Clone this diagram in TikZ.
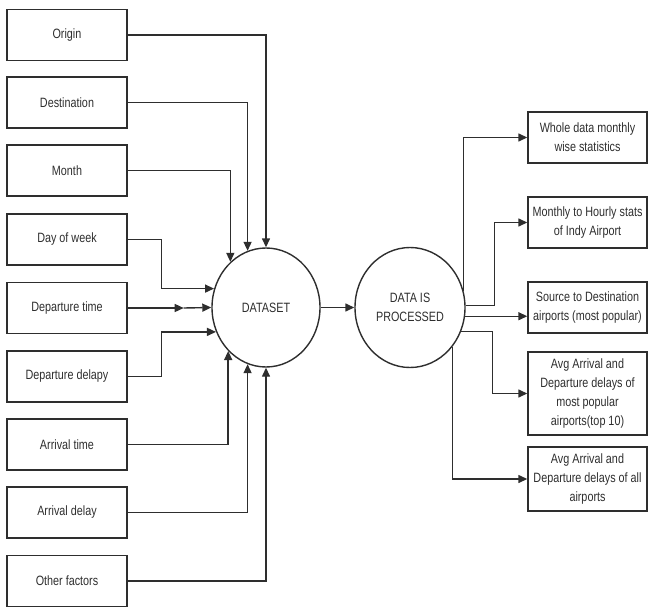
\documentclass[tikz,border=0pt]{standalone}
\usepackage{fontspec}
\setmainfont{Liberation Sans}[FakeStretch=0.8]
\usetikzlibrary{arrows.meta,shapes.geometric}
\definecolor{ink}{HTML}{2E2E2E}
\begin{document}
\begin{tikzpicture}[x=1pt,y=-1pt,
  every node/.style={font=\fontsize{13.5}{19}\selectfont, text=ink},
  lbox/.style={draw=ink, line width=1.4pt, minimum width=120pt, minimum height=51pt, inner sep=0pt},
  rbox/.style={draw=ink, line width=1.4pt, minimum width=119pt, inner sep=0pt, align=center},
  proc/.style={draw=ink, line width=1.4pt, ellipse, inner sep=0pt, align=center},
  arr/.style={draw=ink, line width=1.4pt, -{Triangle[length=9pt,width=8pt]}},
  ln/.style={draw=ink, line width=1.4pt}]
\useasboundingbox (0,0) rectangle (648,608);
% left boxes
\node[lbox] (org) at (67,35) {Origin};
\node[lbox] (dst) at (67,102.5) {Destination};
\node[lbox] (mon) at (67,170.5) {Month};
\node[lbox] (dow) at (67,239.5) {Day of week};
\node[lbox] (dpt) at (67,308) {Departure time};
\node[lbox] (dpd) at (67,376.5) {Departure delapy};
\node[lbox] (art) at (67,444.5) {Arrival time};
\node[lbox] (ard) at (67,512.5) {Arrival delay};
\node[lbox] (oth) at (67,581) {Other factors};
% processes
\node[proc, minimum width=108pt, minimum height=119pt] (ds) at (266,307.5) {DATASET};
\node[proc, minimum width=110pt, minimum height=120pt] (dp) at (410,307.5) {DATA IS\\PROCESSED};
% right boxes
\node[rbox, minimum height=51pt] (o1) at (587.5,137.5) {Whole data monthly\\wise statistics};
\node[rbox, minimum height=51pt] (o2) at (587.5,222.5) {Monthly to Hourly stats\\of Indy Airport};
\node[rbox, minimum height=51pt] (o3) at (587.5,307.5) {Source to Destination\\airports (most popular)};
\node[rbox, minimum height=83pt] (o4) at (587.5,393.5) {Avg Arrival and\\Departure delays of\\most popular\\airports(top 10)};
\node[rbox, minimum height=64pt] (o5) at (587.5,479) {Avg Arrival and\\Departure delays of all\\airports};
% inputs
\draw[arr] (org.east) -| (ds.north);
\draw[arr] (dst.east) -| (ds.108);
\draw[arr] (mon.east) -| (ds.128);
\draw[arr] (dow.east) -- ++(34,0) |- (ds.160);
\draw[arr] (dpt.east) -- ([xshift=56pt]dpt.east);
\draw[arr] ([xshift=56pt]dpt.east) -- (ds.west);
\draw[arr] (dpd.east) -- ++(34,0) |- (ds.206.5);
\draw[arr] (art.east) -| (ds.229.5);
\draw[arr] (ard.east) -| (ds.252);
\draw[arr] (oth.east) -| (ds.south);
% middle
\draw[arr] (ds.east) -- (dp.west);
% outputs
\draw[arr] (dp.17) |- (o1.west);
\draw[arr] (dp.2) -| ([xshift=-33pt]o2.west) -- (o2.west);
\draw[arr] (dp.-9.4) -- (dp.-9.4 -| o3.west);
\draw[arr] (dp.-25.5) -| ([xshift=-35pt]o4.west) -- (o4.west);
\draw[arr] (dp.-43) |- (o5.west);
\end{tikzpicture}
\end{document}
